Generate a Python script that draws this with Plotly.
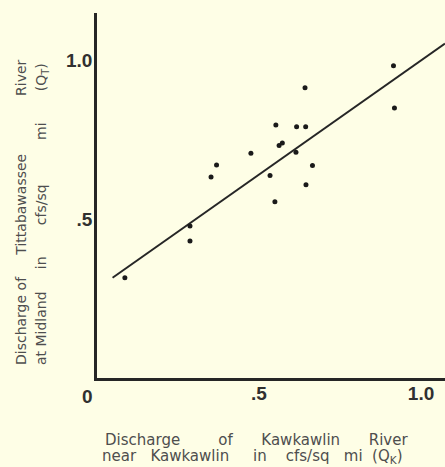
import plotly.graph_objects as go

# Discharge data (cfs/sq mi)
q_kawkawlin = [0.086, 0.287, 0.287, 0.352, 0.369, 0.475, 0.534, 0.549, 0.552, 0.562,
               0.572, 0.614, 0.616, 0.644, 0.642, 0.645, 0.665, 0.915, 0.918]
q_tittabawassee = [0.315, 0.478, 0.431, 0.632, 0.670, 0.707, 0.637, 0.554, 0.796, 0.731,
                   0.739, 0.710, 0.790, 0.790, 0.913, 0.608, 0.668, 0.982, 0.849]

# Fitted relation drawn on the chart: QT = a + b * QK
fit_intercept = 0.281
fit_slope = 0.718
fit_x = [0.048, 1.074]
fit_y = [fit_intercept + fit_slope * v for v in fit_x]

x_tickvals = [0.5, 1.0]
x_ticktext = [".5", "1.0"]
y_tickvals = [0.5, 1.0]
y_ticktext = [".5", "1.0"]

BG = "#FEFEE6"
INK = "#262626"
TXT = "#4e4e4e"

# plot-area geometry in pixels
W, H = 445, 467
ML, MR, MT, MB = 97, 0, 13, 89
PW, PH = W - ML - MR, H - MT - MB


def px_to_paper(px, py):
    return (px - ML) / PW, (H - MB - py) / PH


fig = go.Figure()
fig.add_trace(go.Scatter(x=fit_x, y=fit_y, mode="lines",
                         line=dict(color=INK, width=2), hoverinfo="skip"))
fig.add_trace(go.Scatter(x=q_kawkawlin, y=q_tittabawassee, mode="markers",
                         marker=dict(color="#1a1a1a", size=5)))

tick_font = dict(family="Liberation Sans", size=19, color="#303030", weight="bold")

fig.update_layout(
    width=W, height=H,
    margin=dict(l=ML, r=MR, t=MT, b=MB),
    paper_bgcolor=BG, plot_bgcolor=BG,
    showlegend=False,
    xaxis=dict(range=[0, 1.074], showgrid=False, zeroline=False,
               showline=True, linecolor=INK, linewidth=2.5,
               tickvals=x_tickvals, ticktext=x_ticktext, ticks="",
               tickfont=tick_font, ticklabelstandoff=-4),
    yaxis=dict(range=[0, 1.148], showgrid=False, zeroline=False,
               showline=True, linecolor=INK, linewidth=2.5,
               tickvals=y_tickvals, ticktext=y_ticktext, ticks="",
               tickfont=tick_font, ticklabelstandoff=-2),
)

# origin label
ox, oy = px_to_paper(87, 397)
fig.add_annotation(x=ox, y=oy, xref="paper", yref="paper", text="0", showarrow=False,
                   font=tick_font, xanchor="center", yanchor="middle")

sp = "&nbsp;"

# x-axis title (two spaced-out lines)
xfont = dict(family="DejaVu Sans", size=15, color=TXT)
xt1 = "Discharge" + sp * 8 + "of" + sp * 6 + "Kawkawlin" + sp * 6 + "River"
xt2 = ("near" + sp * 3 + "Kawkawlin" + sp * 5 + "in" + sp * 4 + "cfs/sq" + sp * 3 + "mi"
       + sp * 2 + "(Q<sub>K</sub>)")
for text, px, py in [(xt1, 103, 440), (xt2, 100, 457)]:
    xp, yp = px_to_paper(px, py)
    fig.add_annotation(x=xp, y=yp, xref="paper", yref="paper", text=text, showarrow=False,
                       font=xfont, xanchor="left", yanchor="middle")

# y-axis title (two spaced-out rotated lines)
yfont = dict(family="DejaVu Sans", size=14, color=TXT)
yt1 = "Discharge" + sp * 1 + "of" + sp * 5 + "Tittabawassee" + sp * 13 + "River"
yt2 = ("at" + sp * 1 + "Midland" + sp * 5 + "in" + sp * 7 + "cfs/sq" + sp * 10 + "mi"
       + sp * 7 + "(Q<sub>T</sub>)")
for text, px in [(yt1, 21), (yt2, 42)]:
    xp, yp = px_to_paper(px, 367)
    fig.add_annotation(x=xp, y=yp, xref="paper", yref="paper", text=text, showarrow=False,
                       font=yfont, textangle=-90, xanchor="center", yanchor="bottom")

fig.write_html("out.html")
